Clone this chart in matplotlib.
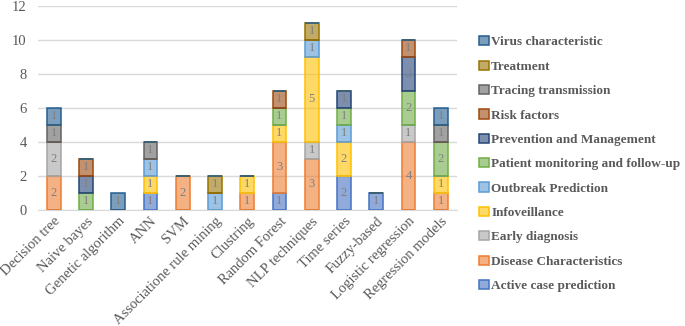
import numpy as np
import matplotlib.pyplot as plt
from matplotlib.colors import to_rgba

categories = ["Decision tree", "Naive bayes", "Genetic algorithm", "ANN", "SVM",
              "Associatione rule mining", "Clustring", "Random Forest", "NLP techniques",
              "Time series", "Fuzzy-based", "Logistic regression", "Regression models"]

series_names = ["Active case prediction", "Disease Characteristics", "Early diagnosis",
                "Infoveillance", "Outbreak Prediction", "Patient monitoring and follow-up",
                "Prevention and Management", "Risk factors", "Tracing transmission",
                "Treatment", "Virus characteristic"]

active_case = [0, 0, 0, 1, 0, 0, 0, 1, 0, 2, 1, 0, 0]
disease_char = [2, 0, 0, 0, 2, 0, 1, 3, 3, 0, 0, 4, 1]
early_diag = [2, 0, 0, 0, 0, 0, 0, 0, 1, 0, 0, 1, 0]
infoveillance = [0, 0, 0, 1, 0, 0, 1, 1, 5, 2, 0, 0, 1]
outbreak_pred = [0, 0, 0, 1, 0, 1, 0, 0, 1, 1, 0, 0, 0]
patient_mon = [0, 1, 0, 0, 0, 0, 0, 1, 0, 1, 0, 2, 2]
prevention = [0, 1, 0, 0, 0, 0, 0, 0, 0, 1, 0, 2, 0]
risk_factors = [0, 1, 0, 0, 0, 0, 0, 1, 0, 0, 0, 1, 0]
tracing = [1, 0, 0, 1, 0, 0, 0, 0, 0, 0, 0, 0, 1]
treatment = [0, 0, 0, 0, 0, 1, 0, 0, 1, 0, 0, 0, 0]
virus_char = [1, 0, 1, 0, 0, 0, 0, 0, 0, 0, 0, 0, 1]

series_values = [active_case, disease_char, early_diag, infoveillance, outbreak_pred,
                 patient_mon, prevention, risk_factors, tracing, treatment, virus_char]

colors = ["#4472C4", "#ED7D31", "#A5A5A5", "#FFC000", "#5B9BD5", "#70AD47",
          "#264478", "#9E480E", "#636363", "#997300", "#255E91"]

txt = "#595959"
plt.rcParams['font.family'] = ['Liberation Serif', 'DejaVu Serif']

fig = plt.figure(figsize=(6.85, 3.26), dpi=100)
ax = fig.add_axes([0.055, 0.356, 0.612, 0.626])

x = np.arange(len(categories))
bottom = np.zeros(len(categories))
handles = []
for name, vals, c in zip(series_names, series_values, colors):
    vals = np.array(vals, dtype=float)
    bars = ax.bar(x, vals, 0.43, bottom=bottom, facecolor=to_rgba(c, 0.6),
                  edgecolor=c, linewidth=1.1, label=name, zorder=3)
    handles.append(bars)
    for xi, v, b in zip(x, vals, bottom):
        if v > 0:
            ax.text(xi, b + v / 2, f"{int(v)}", ha="center", va="center",
                    fontsize=9, color="#7F7F7F", zorder=4)
    bottom += vals

ax.set_ylim(0, 12)
ax.set_xlim(-0.5, len(categories) - 0.5)
ax.set_yticks(range(0, 13, 2))
ax.yaxis.grid(True, color="#D9D9D9", linewidth=1, zorder=0)
for s in ["top", "right", "left"]:
    ax.spines[s].set_visible(False)
ax.spines["bottom"].set_color("#D9D9D9")
ax.tick_params(axis="both", length=0, colors=txt, labelsize=10.5)
ax.tick_params(axis="y", pad=8)
ax.set_xticks(x)
ax.set_xticklabels(categories, rotation=45, ha="right", rotation_mode="anchor")

leg = fig.legend(handles[::-1], series_names[::-1], loc="upper left",
                 bbox_to_anchor=(0.692, 0.905), borderaxespad=0, frameon=False,
                 prop={"weight": "bold", "size": 9.5}, labelspacing=0.92,
                 handlelength=0.7, handleheight=0.7, handletextpad=0.2)
for t in leg.get_texts():
    t.set_color(txt)

fig.savefig("out.png", dpi=100)
